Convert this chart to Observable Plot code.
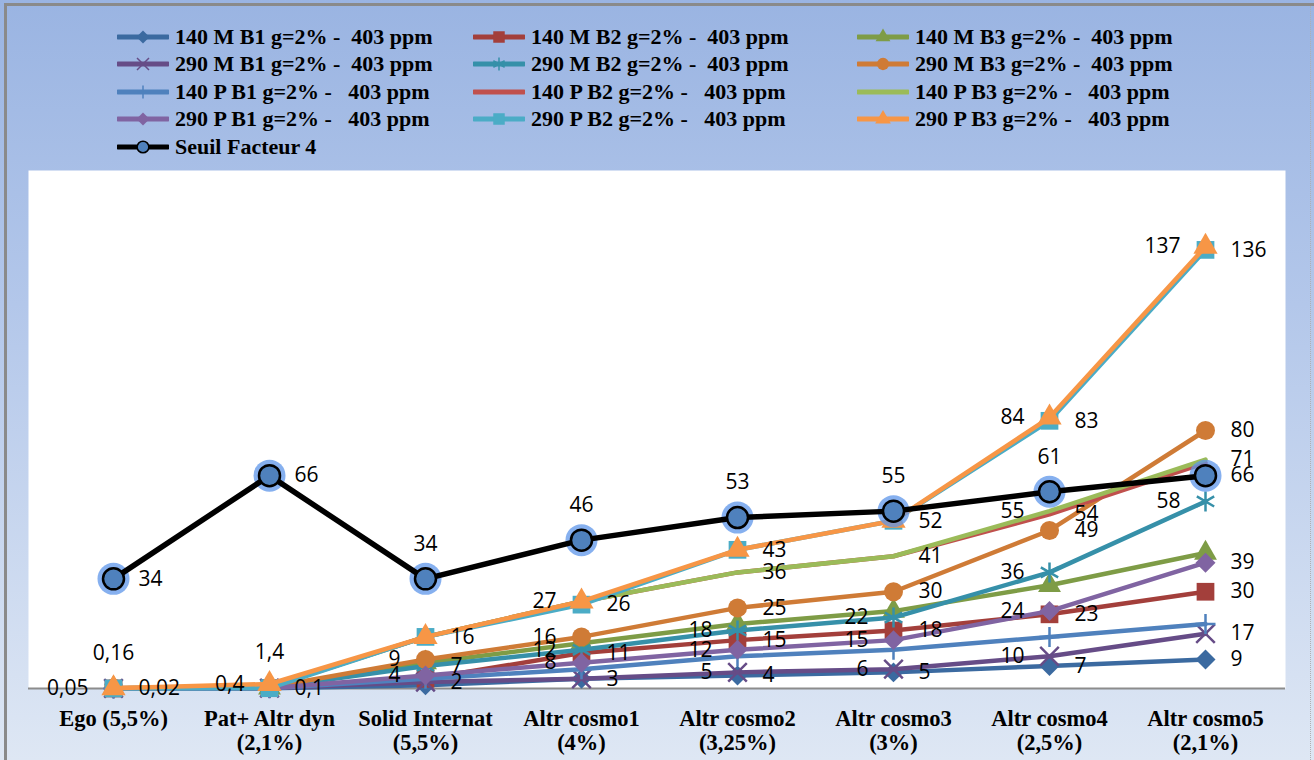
<!DOCTYPE html>
<html>
<head>
<meta charset="utf-8">
<script src="https://cdn.jsdelivr.net/npm/d3@7"></script>
<script src="https://cdn.jsdelivr.net/npm/@observablehq/plot@0.6"></script>
<style>
  html, body { margin: 0; padding: 0; background: #fff; }
  #chart { position: relative; width: 1314px; height: 760px; overflow: hidden;
    background: linear-gradient(to bottom, #9AB4E2 0%, #B3C7EA 40%, #DEE7F4 100%); }
  #bTop { position: absolute; left: 4px; top: 3px; width: 1310px; height: 3px; background: #8a8a8a; }
  #bLeft { position: absolute; left: 4px; top: 3px; width: 3px; height: 757px; background: #8a8a8a; }
  #bRight { position: absolute; left: 1310px; top: 6px; width: 0; height: 754px; border-left: 1px dotted #b0b0b0; }
  #legend { position: absolute; left: 0; top: 0; width: 1314px; height: 168px; }
  .item { position: absolute; display: flex; align-items: center; height: 26px;
    font-family: "Liberation Serif", "Times New Roman", serif; font-weight: bold; font-size: 22px;
    white-space: pre; color: #000; }
  .item svg { margin-right: 6px; }
  #plot { position: absolute; left: 0; top: 168px; }
</style>
</head>
<body>
<div id="chart">
  <div id="legend"></div>
  <div id="plot"></div>
  <div id="bTop"></div><div id="bLeft"></div><div id="bRight"></div>
</div>
<script>
// ---------------- data ----------------
const categories = [
  "Ego (5,5%)", "Pat+ Altr dyn\n(2,1%)", "Solid Internat\n(5,5%)", "Altr cosmo1\n(4%)",
  "Altr cosmo2\n(3,25%)", "Altr cosmo3\n(3%)", "Altr cosmo4\n(2,5%)", "Altr cosmo5\n(2,1%)"
];

const seriesKeys = ["140MB1","140MB2","140MB3","290MB1","290MB2","290MB3",
                    "140PB1","140PB2","140PB3","290PB1","290PB2","290PB3"];
const seriesNames = [
  "140 M B1 g=2% -  403 ppm", "140 M B2 g=2% -  403 ppm", "140 M B3 g=2% -  403 ppm",
  "290 M B1 g=2% -  403 ppm", "290 M B2 g=2% -  403 ppm", "290 M B3 g=2% -  403 ppm",
  "140 P B1 g=2% -   403 ppm", "140 P B2 g=2% -   403 ppm", "140 P B3 g=2% -   403 ppm",
  "290 P B1 g=2% -   403 ppm", "290 P B2 g=2% -   403 ppm", "290 P B3 g=2% -   403 ppm"
];
const seuilName = "Seuil Facteur 4";

const v140MB1 = [0.02, 0.1, 1, 3, 4, 5, 7, 9];
const v140MB2 = [0.02, 0.1, 3, 11, 15, 18, 23, 30];
const v140MB3 = [0.05, 0.2, 8, 14, 20, 24, 32, 42];
const v290MB1 = [0.02, 0.1, 2, 3, 5, 6, 10, 17];
const v290MB2 = [0.05, 0.2, 7, 12, 18, 22, 36, 58];
const v290MB3 = [0.16, 0.4, 9, 16, 25, 30, 49, 80];
const v140PB1 = [0.02, 0.1, 3, 6, 10, 12, 16, 20];
const v140PB2 = [0.05, 0.4, 16, 27, 36, 41, 54, 70];
const v140PB3 = [0.05, 0.4, 16, 27, 36, 41, 55, 71];
const v290PB1 = [0.02, 0.1, 4, 8, 12, 15, 24, 39];
const v290PB2 = [0.02, 0.1, 16, 26, 43, 52, 83, 136];
const v290PB3 = [0.05, 1.4, 16, 27, 43, 52, 84, 137];
const vSeuil  = [34, 66, 34, 46, 53, 55, 61, 66];

// data labels: [series, category index, text, side]
const dataLabels = [
  ["290MB3",0,"0,16","T"],["290PB3",0,"0,05","L"],["290PB2",0,"0,02","R"],["seuil",0,"34","R"],
  ["290MB3",1,"1,4","T"],["290PB3",1,"0,4","L"],["290PB2",1,"0,1","R"],["seuil",1,"66","R"],
  ["290PB2",2,"16","R"],["290MB3",2,"9","L"],["290MB2",2,"7","R"],["290PB1",2,"4","L"],["290MB1",2,"2","R"],["seuil",2,"34","T"],
  ["290PB3",3,"27","L"],["290PB2",3,"26","R"],["290MB3",3,"16","L"],["290MB2",3,"12","L"],["140MB2",3,"11","R"],["290PB1",3,"8","L"],["290MB1",3,"3","R"],["seuil",3,"46","T"],
  ["290PB2",4,"43","R"],["140PB3",4,"36","R"],["290MB3",4,"25","R"],["290MB2",4,"18","L"],["140MB2",4,"15","R"],["290PB1",4,"12","L"],["290MB1",4,"5","L"],["140MB1",4,"4","R"],["seuil",4,"53","T"],
  ["290PB2",5,"52","R"],["140PB3",5,"41","R"],["290MB3",5,"30","R"],["290MB2",5,"22","L"],["140MB2",5,"18","R"],["290PB1",5,"15","L"],["290MB1",5,"6","L"],["140MB1",5,"5","R"],["seuil",5,"55","T"],
  ["290PB3",6,"84","L"],["290PB2",6,"83","R"],["140PB3",6,"55","L"],["140PB2",6,"54","R"],["290MB3",6,"49","R"],["290MB2",6,"36","L"],["290PB1",6,"24","L"],["140MB2",6,"23","R"],["290MB1",6,"10","L"],["140MB1",6,"7","R"],["seuil",6,"61","T"],
  ["290PB3",7,"137","L"],["290PB2",7,"136","R"],["290MB3",7,"80","R"],["140PB3",7,"71","R"],["seuil",7,"66","R"],["290MB2",7,"58","L"],["290PB1",7,"39","R"],["140MB2",7,"30","R"],["290MB1",7,"17","R"],["140MB1",7,"9","R"]
];

// ---------------- styles ----------------
const values = {
  "140MB1": v140MB1, "140MB2": v140MB2, "140MB3": v140MB3,
  "290MB1": v290MB1, "290MB2": v290MB2, "290MB3": v290MB3,
  "140PB1": v140PB1, "140PB2": v140PB2, "140PB3": v140PB3,
  "290PB1": v290PB1, "290PB2": v290PB2, "290PB3": v290PB3,
  "seuil": vSeuil
};
const styles = {
  "140MB1": {color: "#3B6AA0", symbol: "diamond2", r: 9,   filled: true},
  "140MB2": {color: "#A33F3B", symbol: "square",   r: 10,  filled: true},
  "140MB3": {color: "#7E9C46", symbol: "triangle", r: 8.5, filled: true},
  "290MB1": {color: "#664C87", symbol: "times",    r: 8.5, filled: false},
  "290MB2": {color: "#3690A9", symbol: "asterisk", r: 9.5, filled: false},
  "290MB3": {color: "#CF7B36", symbol: "circle",   r: 9.5, filled: true},
  "140PB1": {color: "#4F81BD", symbol: "plus",     r: 6.5, filled: false},
  "140PB2": {color: "#C0504D", symbol: null},
  "140PB3": {color: "#9BBB59", symbol: null},
  "290PB1": {color: "#8064A2", symbol: "diamond2", r: 9,   filled: true},
  "290PB2": {color: "#4BACC6", symbol: "square",   r: 10,  filled: true},
  "290PB3": {color: "#F79646", symbol: "triangle", r: 9,   filled: true}
};
const d3Sym = {
  diamond2: d3.symbolDiamond2, square: d3.symbolSquare, triangle: d3.symbolTriangle,
  times: d3.symbolTimes, asterisk: d3.symbolAsterisk, circle: d3.symbolCircle, plus: d3.symbolPlus
};

// ---------------- legend ----------------
const legend = d3.select("#legend");
const colMarker = [117, 473, 857];
const rowCenter = [37, 64, 92, 119, 147];
function addLegendItem(col, row, name, color, symbol, r, filled, seuil) {
  const item = legend.append("div").attr("class", "item")
    .style("left", colMarker[col] + "px").style("top", (rowCenter[row] - 13) + "px");
  const svg = item.append("svg").attr("width", 52).attr("height", 20);
  svg.append("line").attr("x1", 1).attr("x2", 51).attr("y1", 10).attr("y2", 10)
    .attr("stroke", color).attr("stroke-width", 5).attr("stroke-linecap", "round");
  if (symbol) {
    const size = Math.PI * r * r * 0.42;
    const p = svg.append("path").attr("transform", "translate(26,10)")
      .attr("d", d3.symbol(d3Sym[symbol], size)());
    if (seuil) p.attr("fill", "#4F81BD").attr("stroke", "#000").attr("stroke-width", 1.5);
    else if (filled) p.attr("fill", color);
    else p.attr("fill", "none").attr("stroke", color).attr("stroke-width", 1.5);
  }
  item.append("span").text(name);
}
seriesKeys.forEach((k, i) => {
  const s = styles[k];
  addLegendItem(i % 3, Math.floor(i / 3), seriesNames[i], s.color, s.symbol, s.r || 0, s.filled, false);
});
addLegendItem(0, 4, seuilName, "#000", "circle", 9, true, true);

// ---------------- plot ----------------
const rows = k => values[k].map((v, i) => ({key: k, cat: categories[i], v}));
const marks = [
  Plot.frame({fill: "white", stroke: null, insetLeft: -6, insetRight: -2, insetTop: -2}),
  Plot.ruleY([0], {stroke: "#8c8c8c", strokeWidth: 2, insetLeft: -6, insetRight: -2})
];
for (const k of seriesKeys) {
  const s = styles[k];
  const data = rows(k);
  marks.push(Plot.line(data, {x: "cat", y: "v", stroke: s.color, strokeWidth: 4.5, strokeLinejoin: "round", strokeLinecap: "round"}));
  if (s.symbol) {
    marks.push(Plot.dot(data, s.filled
      ? {x: "cat", y: "v", symbol: s.symbol, r: s.r, fill: s.color, stroke: "none"}
      : {x: "cat", y: "v", symbol: s.symbol, r: s.r, fill: "none", stroke: s.color, strokeWidth: 2.5}));
  }
}
const seuilRows = rows("seuil");
marks.push(
  Plot.line(seuilRows, {x: "cat", y: "v", stroke: "#5E95EA", strokeWidth: 18, strokeOpacity: 0.75, strokeLinejoin: "round", ariaLabel: "glow"}),
  Plot.dot(seuilRows, {x: "cat", y: "v", r: 16, fill: "#5E95EA", fillOpacity: 0.75, ariaLabel: "glow"}),
  Plot.line(seuilRows, {x: "cat", y: "v", stroke: "#000", strokeWidth: 5.5, strokeLinejoin: "round"}),
  Plot.dot(seuilRows, {x: "cat", y: "v", r: 10.5, fill: "#4F81BD", stroke: "#000", strokeWidth: 2.5})
);
const lab = dataLabels.map(([k, i, t, side]) => ({cat: categories[i], v: values[k][i], t, side}));
const labelFont = {fontFamily: "'Open Sans', sans-serif", fontSize: 21, fill: "#000"};
marks.push(
  Plot.text(lab.filter(d => d.side === "L"), {x: "cat", y: "v", text: "t", textAnchor: "end", dx: -25, ...labelFont}),
  Plot.text(lab.filter(d => d.side === "R"), {x: "cat", y: "v", text: "t", textAnchor: "start", dx: 25, ...labelFont}),
  Plot.text(lab.filter(d => d.side === "T"), {x: "cat", y: "v", text: "t", textAnchor: "middle", dy: -35, ...labelFont}),
  Plot.text(categories, {x: d => d, frameAnchor: "bottom", text: d => d, lineAnchor: "top", dy: 20,
    lineHeight: 1.08, fontFamily: "'Liberation Serif', serif", fontWeight: "bold", fontSize: 22.5, fill: "#000"})
);

const chart = Plot.plot({
  width: 1314, height: 592,
  marginLeft: 34, marginRight: 31, marginTop: 4, marginBottom: 72,
  style: {background: "transparent", overflow: "visible"},
  x: {type: "point", domain: categories, padding: 0.5, axis: null},
  y: {domain: [0, 160], axis: null},
  marks
});
const svgSel = d3.select(chart);
svgSel.insert("defs", ":first-child").append("filter").attr("id", "glowBlur")
  .attr("x", "-20%").attr("y", "-50%").attr("width", "140%").attr("height", "200%")
  .append("feGaussianBlur").attr("stdDeviation", 4);
svgSel.selectAll('[aria-label="glow"]').attr("filter", "url(#glowBlur)");
document.getElementById("plot").appendChild(chart);
</script>
</body>
</html>
